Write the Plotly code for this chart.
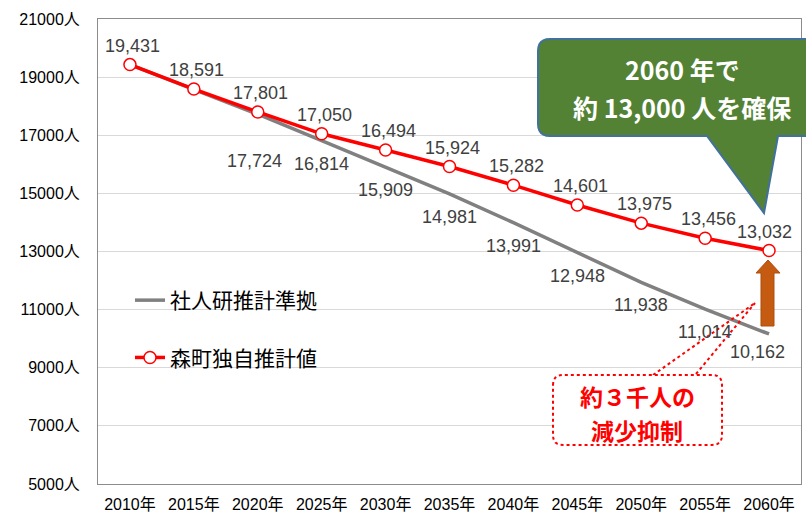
import math
import plotly.graph_objects as go

# ---- data ----
years = ["2010年", "2015年", "2020年", "2025年", "2030年", "2035年",
         "2040年", "2045年", "2050年", "2055年", "2060年"]
ipss_name = "社人研推計準拠"
ipss_values = [19431, 18591, 17724, 16814, 15909, 14981, 13991, 12948, 11938, 11014, 10162]
town_name = "森町独自推計値"
town_values = [19431, 18591, 17801, 17050, 16494, 15924, 15282, 14601, 13975, 13456, 13032]
y_ticks = [5000, 7000, 9000, 11000, 13000, 15000, 17000, 19000, 21000]
y_tick_labels = [f"{v}人" for v in y_ticks]
callout_text = ["2060 年で", "約 13,000 人を確保"]
box_text = ["約３千人の", "減少抑制"]

# ---- style ----
FONT = "Liberation Sans, Noto Sans CJK JP, sans-serif"
JFONT = "Noto Sans CJK JP, sans-serif"
W, H = 806, 517
ML, MR, MT, MB = 98, 5, 19, 33
PW, PH = W - ML - MR, H - MT - MB


def px(x):
    return (x - ML) / PW


def py(y):
    return (H - MB - y) / PH


def rounded_poly(pts):
    """pts: list of (x, y, r) in pixels; r = corner radius (0 = sharp)."""
    out = []
    n = len(pts)
    for i, (x, y, r) in enumerate(pts):
        if r == 0:
            out.append((x, y))
            continue
        xp, yp, _ = pts[i - 1]
        xn, yn, _ = pts[(i + 1) % n]
        dp = math.hypot(xp - x, yp - y)
        dn = math.hypot(xn - x, yn - y)
        ux1, uy1 = (xp - x) / dp, (yp - y) / dp
        ux2, uy2 = (xn - x) / dn, (yn - y) / dn
        a = (x + ux1 * r, y + uy1 * r)
        b = (x + ux2 * r, y + uy2 * r)
        steps = 6
        for k in range(steps + 1):
            t = k / steps
            qx = (1 - t) ** 2 * a[0] + 2 * (1 - t) * t * x + t ** 2 * b[0]
            qy = (1 - t) ** 2 * a[1] + 2 * (1 - t) * t * y + t ** 2 * b[1]
            out.append((qx, qy))
    s = "M" + " L".join(f"{px(x):.5f},{py(y):.5f}" for x, y in out) + " Z"
    return s


fig = go.Figure()

fig.add_trace(go.Scatter(
    x=years, y=ipss_values, name=ipss_name, mode="lines",
    line=dict(color="#808080", width=3.5), legendgroup="a",
))
fig.add_trace(go.Scatter(
    x=years, y=town_values, name=town_name, mode="lines+markers",
    line=dict(color="#FF0000", width=3.5),
    marker=dict(symbol="circle", size=12, color="white",
                line=dict(color="#FF0000", width=1.5)),
    legendgroup="b",
))

annotations = []
red_shift = {"2060年": -5}
for x, v in zip(years, town_values):
    annotations.append(dict(x=x, y=v, xref="x", yref="y", text=f"{v:,}",
                            showarrow=False, yshift=19, xshift=red_shift.get(x, 3),
                            xanchor="center", yanchor="middle",
                            font=dict(family=FONT, size=18, color="#404040")))
gray_shift = {"2020年": (-3, -47), "2060年": (-12, -18)}
for x, v in list(zip(years, ipss_values))[2:]:
    xs, ys = gray_shift.get(x, (0, -23))
    annotations.append(dict(x=x, y=v, xref="x", yref="y", text=f"{v:,}",
                            showarrow=False, yshift=ys, xshift=xs,
                            xanchor="center", yanchor="middle",
                            font=dict(family=FONT, size=18, color="#404040")))

for txt, yy in zip(callout_text, [69, 107]):
    annotations.append(dict(x=px(682), y=py(yy), xref="paper", yref="paper",
                            text=f"<b>{txt}</b>", showarrow=False,
                            xanchor="center", yanchor="middle",
                            font=dict(family=JFONT, size=25, color="white")))
for txt, yy in zip(box_text, [396, 430]):
    annotations.append(dict(x=px(637), y=py(yy), xref="paper", yref="paper",
                            text=f"<b>{txt}</b>", showarrow=False,
                            xanchor="center", yanchor="middle",
                            font=dict(family=JFONT, size=23, color="#FF0000")))

shapes = []
green = rounded_poly([
    (538, 39, 12), (830, 39, 0), (830, 136, 0), (778, 136, 0),
    (764, 213, 0), (707, 136, 0), (538, 136, 12)
])
shapes.append(dict(type="path", path=green, xref="paper", yref="paper",
                   fillcolor="#548235", line=dict(color="#41719C", width=2),
                   layer="above"))
arrow = rounded_poly([
    (768, 260, 0), (780, 273, 0), (774, 273, 0), (774, 326, 0),
    (761, 326, 0), (761, 273, 0), (756, 273, 0)
])
shapes.append(dict(type="path", path=arrow, xref="paper", yref="paper",
                   fillcolor="#C55A11", line=dict(color="#AE4F0F", width=1),
                   layer="above"))
for x0, y0 in [(653, 375), (696, 374)]:
    shapes.append(dict(type="line", xref="paper", yref="paper",
                       x0=px(x0), y0=py(y0), x1=px(755), y1=py(303),
                       line=dict(color="#FF0000", width=2, dash="dot"),
                       layer="above"))
box = rounded_poly([(553, 375, 10), (722, 375, 10), (722, 445, 10), (553, 445, 10)])
shapes.append(dict(type="path", path=box, xref="paper", yref="paper",
                   fillcolor="white", line=dict(color="#FF0000", width=2, dash="dot"),
                   layer="above"))

fig.update_layout(
    width=W, height=H,
    margin=dict(l=ML, r=MR, t=MT, b=MB, autoexpand=False),
    paper_bgcolor="white", plot_bgcolor="white",
    font=dict(family=FONT, size=16, color="black"),
    showlegend=True,
    legend=dict(x=px(130), y=py(280), xanchor="left", yanchor="top",
                bgcolor="rgba(0,0,0,0)", tracegroupgap=27,
                font=dict(family=JFONT, size=21, color="black")),
    annotations=annotations,
    shapes=shapes,
    xaxis=dict(type="category", range=[-0.5, 10.5], showgrid=False,
               showline=True, linecolor="#8C8C8C", linewidth=1, mirror=True,
               ticks="", tickfont=dict(family=FONT, size=16, color="black"),
               ticklabelstandoff=6),
    yaxis=dict(range=[5000, 21000], tickvals=y_ticks, ticktext=y_tick_labels,
               showgrid=True, gridcolor="#D9D9D9", gridwidth=1,
               showline=True, linecolor="#8C8C8C", linewidth=1, mirror=True,
               ticks="", tickfont=dict(family=FONT, size=16, color="black"),
               ticklabelstandoff=14, zeroline=False),
)

fig.write_html("out.html", config={"displayModeBar": False},
               post_script="document.body.style.margin='0';document.body.style.overflow='hidden';")
